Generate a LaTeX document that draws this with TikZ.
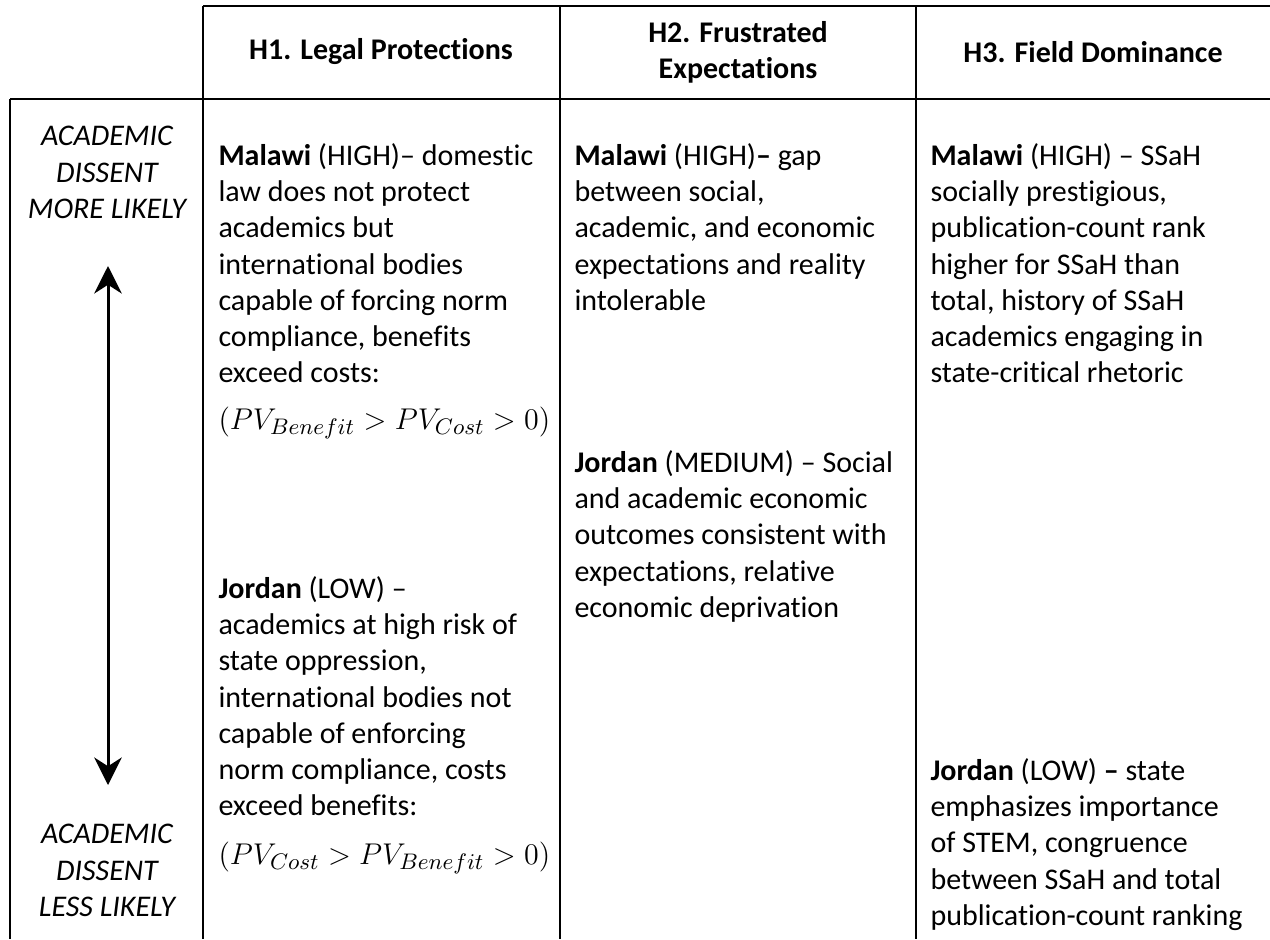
\documentclass[tikz,border=0pt]{standalone}
\usepackage{fontspec}
\setmainfont{Carlito}[Ligatures=NoCommon]
\usetikzlibrary{arrows.meta}

\tikzset{
  rule/.style={line width=1pt},
  cell/.style={anchor=north west, inner sep=0pt, align=left, font=\fontsize{12}{14.5}\selectfont},
  head/.style={inner sep=0pt, align=center, font=\fontsize{12}{14.5}\selectfont\bfseries},
  side/.style={anchor=north, inner sep=0pt, align=center, font=\fontsize{12}{14.5}\selectfont\itshape},
  formula/.style={anchor=west, inner sep=0pt, font=\fontsize{12.2}{15}\selectfont}
}

\begin{document}
\begin{tikzpicture}[x=0.4pt,y=-0.4pt]
\useasboundingbox (0,0) rectangle (1270,939);

% grid of the table
\coordinate (TL) at (203,6);
\coordinate (TR) at (1270,6);
\coordinate (HL) at (10,99);
\coordinate (HR) at (1270,99);
\draw [rule] (TL) -- (TR);
\draw [rule] (HL) -- (HR);
\draw [rule] (HL) -- (10,939);
\draw [rule] (TL) -- (203,939);
\draw [rule] (560,6) -- (560,939);
\draw [rule] (916,6) -- (916,939);

% column heads
\node [head] (H1) at (381,52) {H1. Legal Protections};
\node [head] (H2) at (738,52) {H2. Frustrated\\Expectations};
\node [head] (H3) at (1093,52) {H3. Field Dominance};

% likelihood scale
\node [side] (More) at (107,126) {ACADEMIC\\DISSENT\\MORE LIKELY};
\node [side] (Less) at (107,824) {ACADEMIC\\DISSENT\\LESS LIKELY};
\coordinate (Up) at (108,266);
\coordinate (Down) at (108,785);
\draw [line width=1.2pt, {Stealth[length=11pt,width=11pt,inset=3.5pt]}-{Stealth[length=11pt,width=11pt,inset=3.5pt]}] (Up) -- (Down);

% H1 cells
\node [cell] (H1M) at (218,143) {\textbf{Malawi} (HIGH)– domestic\\law does not protect\\academics but\\international bodies\\capable of forcing norm\\compliance, benefits\\exceed costs:};
\node [formula] (H1MF) at (218,423) {$(PV_{Benefit} > PV_{Cost} > 0)$};
\node [cell] (H1J) at (218,576) {\textbf{Jordan} (LOW) –\\academics at high risk of\\state oppression,\\international bodies not\\capable of enforcing\\norm compliance, costs\\exceed benefits:};
\node [formula] (H1JF) at (218,858) {$(PV_{Cost} > PV_{Benefit} > 0)$};

% H2 cells
\node [cell] (H2M) at (574,143) {\textbf{Malawi} (HIGH)\textbf{–} gap\\between social,\\academic, and economic\\expectations and reality\\intolerable};
\node [cell] (H2J) at (574,450) {\textbf{Jordan} (MEDIUM) – Social\\and academic economic\\outcomes consistent with\\expectations, relative\\economic deprivation};

% H3 cells
\node [cell] (H3M) at (930,143) {\textbf{Malawi} (HIGH) – SSaH\\socially prestigious,\\publication-count rank\\higher for SSaH than\\total, history of SSaH\\academics engaging in\\state-critical rhetoric};
\node [cell] (H3J) at (930,758) {\textbf{Jordan} (LOW) \textbf{–} state\\emphasizes importance\\of STEM, congruence\\between SSaH and total\\publication-count ranking};

\end{tikzpicture}
\end{document}
